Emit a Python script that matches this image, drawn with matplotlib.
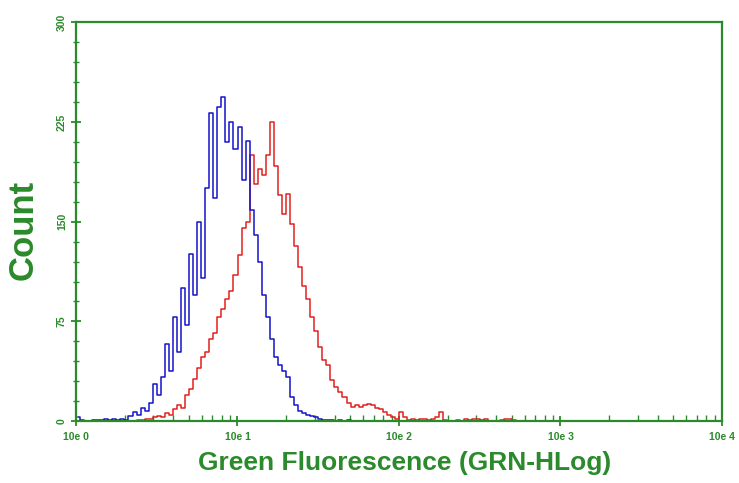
import numpy as np
import matplotlib
matplotlib.use('Agg')
import matplotlib.pyplot as plt
from matplotlib.ticker import FixedLocator, LogLocator, NullFormatter

# canales del histograma: 0.025 decadas por canal empezando en 10e0
channel_width = 0.025

blue_counts = [3, 1, 0, 0, 1, 1, 1, 2, 1, 2,
               1, 2, 1, 4, 7, 5, 10, 8, 14, 28,
               20, 33, 58, 38, 78, 52, 100, 72, 126, 95,
               150, 108, 175, 232, 168, 236, 244, 210, 225, 205,
               221, 181, 211, 159, 140, 120, 95, 78, 62, 48,
               42, 38, 33, 18, 12, 8, 6, 5, 4, 3,
               2, 1, 1, 1, 0, 1, 0, 1, 0, 0]

red_counts = [0, 0, 0, 0, 0, 0, 0, 0, 0, 0,
              0, 0, 0, 0, 0, 1, 1, 2, 2, 3,
              4, 3, 6, 5, 9, 12, 10, 20, 24, 32,
              40, 48, 52, 62, 66, 78, 84, 92, 98, 110,
              125, 145, 150, 200, 178, 190, 185, 200, 225, 192,
              170, 156, 171, 148, 132, 116, 102, 92, 78, 68,
              56, 46, 42, 31, 26, 22, 18, 14, 11, 12,
              11, 12, 13, 12, 10, 9, 7, 5, 3, 2,
              7, 3, 1, 2, 1, 2, 2, 1, 2, 3,
              7, 1, 0, 0, 1, 0, 2, 1, 2, 2,
              1, 2, 0, 0, 0, 1, 2, 2, 1, 0]

x_ticks = [1, 10, 100, 1000, 10000]
x_tick_labels = ['10e 0', '10e 1', '10e 2', '10e 3', '10e 4']
y_ticks = [0, 75, 150, 225, 300]

green = '#2b8a2b'

def canales(n):
    return 10 ** ((np.arange(n) + 0.5) * channel_width)

fig = plt.figure(figsize=(7.39, 4.83), dpi=100)
ax = fig.add_axes([0.1028, 0.128, 0.8742, 0.826])

ax.plot(canales(len(red_counts)), red_counts, color='#e0201c', lw=1.1, drawstyle='steps-mid')
ax.plot(canales(len(blue_counts)), blue_counts, color='#1414cc', lw=1.1, drawstyle='steps-mid')

ax.set_xscale('log')
ax.set_xlim(1, 10000)
ax.set_ylim(0, 300)

ax.xaxis.set_major_locator(FixedLocator(x_ticks))
ax.set_xticklabels(x_tick_labels)
ax.xaxis.set_minor_locator(LogLocator(base=10, subs=np.arange(2, 10)))
ax.xaxis.set_minor_formatter(NullFormatter())
ax.set_yticks(y_ticks)
ax.set_yticks(np.arange(0, 301, 15), minor=True)

for s in ax.spines.values():
    s.set_color(green)
    s.set_linewidth(1.6)

ax.tick_params(axis='x', which='major', direction='inout', length=7, width=1.3, colors=green,
               labelsize=7.5, labelcolor=green, pad=4)
ax.tick_params(axis='x', which='minor', direction='in', length=4, width=1.0, colors=green)
ax.tick_params(axis='y', which='major', direction='inout', length=7, width=1.3, colors=green,
               labelsize=7.5, labelcolor=green, labelrotation=90, pad=3)
ax.tick_params(axis='y', which='minor', direction='inout', length=5, width=1.0, colors=green)
for lab in ax.get_yticklabels():
    lab.set_va('center')
for lab in ax.get_xticklabels() + ax.get_yticklabels():
    lab.set_family(['Liberation Sans', 'DejaVu Sans'])
    lab.set_fontweight('bold')

fuente = ['Liberation Sans', 'DejaVu Sans']
ax.set_xlabel('Green Fluorescence (GRN-HLog)', color=green, fontsize=19, fontweight='bold', family=fuente)
ax.set_ylabel('Count', color=green, fontsize=25, fontweight='bold', family=fuente)
ax.xaxis.set_label_coords(0.508, -0.075)
ax.yaxis.set_label_coords(-0.056, 0.48)

fig.savefig('out.png', dpi=100)
